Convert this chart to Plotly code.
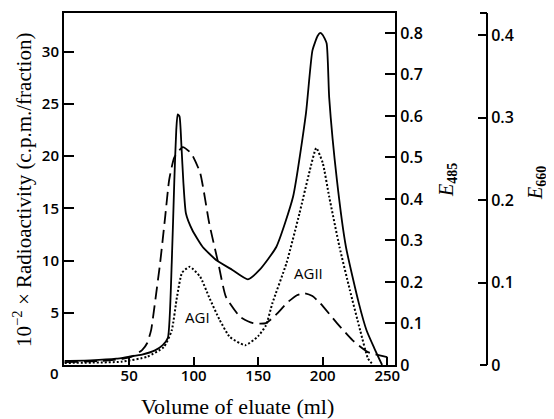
import plotly.graph_objects as go

# Radioactivity (solid line, left axis, 10^-2 x c.p.m./fraction)
vol_radio = [0, 20, 40, 50, 60, 70, 76, 80, 83, 85, 86.5, 87.6, 89, 90.5, 92, 94, 99, 107, 118,
             130, 142, 151, 164, 177, 187, 192, 196, 198, 200, 203, 205, 211, 218, 228, 234, 240, 246]
radio = [0.4, 0.45, 0.6, 0.8, 1.0, 1.4, 1.9, 2.6, 9.8, 17.7, 22.5, 24.0, 23.8, 21.0, 17.5, 14.5, 12.9,
         11.3, 10.0, 9.1, 8.2, 9.1, 11.3, 16.1, 24.1, 30.1, 31.5, 31.8, 31.6, 30.8, 25.6, 17.7, 11.3,
         5.9, 3.3, 1.6, 0.0]

# E485 (dashed line)
vol_485 = [0, 30, 45, 52, 60, 64, 67, 70, 74, 78, 81, 85, 91.5, 98, 105, 112, 119, 125, 136, 146,
           156, 165, 172, 180, 186, 192, 198, 211, 223, 235, 250]
e485 = [0.007, 0.01, 0.015, 0.02, 0.036, 0.053, 0.084, 0.15, 0.246, 0.36, 0.446, 0.50, 0.525, 0.51,
        0.463, 0.342, 0.246, 0.164, 0.116, 0.101, 0.101, 0.125, 0.149, 0.168, 0.173, 0.166, 0.149,
        0.101, 0.06, 0.031, 0.019]

# E660 (dotted line)
vol_660 = [0, 44, 64, 77, 83, 87, 91, 97, 105, 112, 120, 128, 140, 150, 156, 161, 172, 182, 190,
           195, 200, 205, 213, 221, 229, 235, 238]
e660 = [0.0025, 0.004, 0.01, 0.022, 0.042, 0.082, 0.112, 0.119, 0.107, 0.082, 0.055, 0.034, 0.024,
        0.035, 0.048, 0.075, 0.124, 0.184, 0.236, 0.263, 0.245, 0.204, 0.143, 0.091, 0.042, 0.008, 0.002]

x_ticks = [50, 100, 150, 200, 250]
left_ticks = [5, 10, 15, 20, 25, 30]
e485_ticks = [0, 0.1, 0.2, 0.3, 0.4, 0.5, 0.6, 0.7, 0.8]
e660_ticks = [0, 0.1, 0.2, 0.3, 0.4]

# page body has an 8px margin: shrink the figure so it lands on the same screen pixels
OFF = 8
W, H = 554 - OFF, 419 - OFF
PL, PR, PT, PB = 64, 487, 13, 365          # plot-paper box in screen pixels
L = PL - OFF
T = PT - OFF
R = (554 - PR)
B = (419 - PB)
pw = PR - PL
ph = PB - PT
xdom = (395 - PL) / pw

def px(xp):
    return (xp - PL) / pw

def py(yp):
    return (PB - yp) / ph

tickfont = dict(family="Open Sans", size=15, color="black", weight=600)
tickfont_r = dict(family="Open Sans", size=16, color="black", weight=600)
serif = "Liberation Serif"

fig = go.Figure()
fig.add_trace(go.Scatter(x=vol_radio, y=radio, mode="lines", yaxis="y",
                         line=dict(color="black", width=1.8, shape="spline", smoothing=0.5)))
fig.add_trace(go.Scatter(x=vol_485, y=e485, mode="lines", yaxis="y2",
                         line=dict(color="black", width=1.8, dash="13px,6px", shape="spline", smoothing=0.5)))
fig.add_trace(go.Scatter(x=vol_660, y=e660, mode="lines", yaxis="y3",
                         line=dict(color="black", width=2, dash="2px,2px", shape="spline", smoothing=0.5)))

fig.update_layout(
    width=W, height=H,
    margin=dict(l=L, r=R, t=T, b=B, autoexpand=False),
    paper_bgcolor="white", plot_bgcolor="white",
    showlegend=False,
    xaxis=dict(domain=[0, xdom], range=[-0.5, 256], tickvals=x_ticks, ticktext=[str(v) for v in x_ticks],
               ticks="inside", ticklen=8, tickwidth=1.5, tickcolor="black", ticklabelstandoff=-4,
               showline=True, linecolor="black", linewidth=2, mirror=True,
               showgrid=False, zeroline=False, tickfont=tickfont),
    yaxis=dict(range=[0, 33.7], tickvals=left_ticks, ticks="inside", ticklen=10, tickwidth=1.5,
               tickcolor="black", showline=True, linecolor="black", linewidth=2,
               showgrid=False, zeroline=False, tickfont=tickfont),
    yaxis2=dict(range=[0, 0.848], tickvals=e485_ticks,
                ticktext=["0", "0.1", "0.2", "0.3", "0.4", "0.5", "0.6", "0.7", "0.8"],
                overlaying="y", side="right", anchor="x",
                ticks="inside", ticklen=10, tickwidth=1.5, tickcolor="black",
                showline=True, linecolor="black", linewidth=2,
                showgrid=False, zeroline=False, tickfont=tickfont_r),
    yaxis3=dict(range=[0, 0.4267], tickvals=e660_ticks, ticktext=["0", "0.1", "0.2", "0.3", "0.4"],
                overlaying="y", side="right", anchor="free", position=1.0,
                ticks="inside", ticklen=8, tickwidth=1.5, tickcolor="black",
                showline=True, linecolor="black", linewidth=2,
                showgrid=False, zeroline=False, tickfont=tickfont_r),
)

# hooks at the ends of the E660 axis
for yy in (0, 1):
    fig.add_shape(type="line", xref="paper", yref="paper", x0=px(480), x1=1.0, y0=yy, y1=yy,
                  line=dict(color="black", width=2))

ann = [
    dict(text="10<sup>−2</sup> × Radioactivity (c.p.m./fraction)", x=px(22), y=py(190), textangle=-90,
         font=dict(family=serif, size=21, color="black")),
    dict(text="Volume of eluate (ml)", x=px(237), y=py(406),
         font=dict(family=serif, size=22, color="black")),
    dict(text="<i>E</i><sub><b>485</b></sub>", x=px(447), y=py(180), textangle=-90,
         font=dict(family=serif, size=20, color="black")),
    dict(text="<i>E</i><sub><b>660</b></sub>", x=px(536), y=py(183), textangle=-90,
         font=dict(family=serif, size=20, color="black")),
    dict(text="0", x=px(54), y=py(373), font=tickfont),
    dict(text="AGI", x=px(197), y=py(317), font=dict(family="Open Sans", size=15, color="black")),
    dict(text="AGII", x=px(308), y=py(273), font=dict(family="Open Sans", size=15, color="black")),
]
for a in ann:
    fig.add_annotation(xref="paper", yref="paper", showarrow=False, xanchor="center", yanchor="middle", **a)

fig.write_html("out.html")
